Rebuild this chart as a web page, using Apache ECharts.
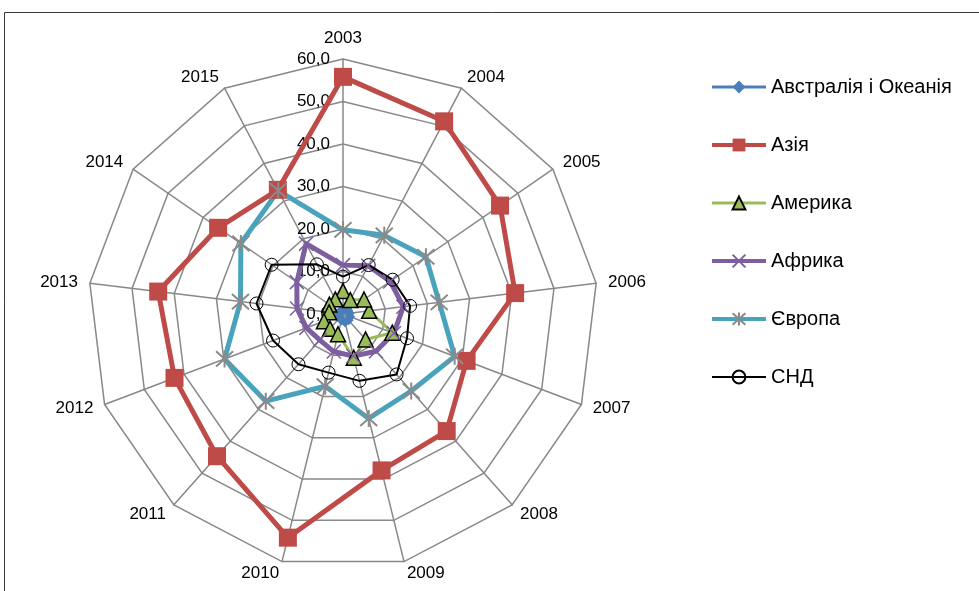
<!DOCTYPE html>
<html>
<head>
<meta charset="utf-8">
<script src="https://cdn.jsdelivr.net/npm/echarts@6/dist/echarts.min.js"></script>
<style>
html,body{margin:0;padding:0;background:#fff;}
#chart{width:979px;height:591px;}
</style>
</head>
<body>
<div id="chart"></div>
<script>
const years = ['2003','2004','2005','2006','2007','2008','2009','2010','2011','2012','2013','2014','2015'];
const seriesNames = ['Австралія і Океанія','Азія','Америка','Африка','Європа','СНД'];
const australia = [1.2,1.3,1.5,1.6,1.8,2.0,2.0,1.6,1.2,1.0,0.9,0.9,1.0];
const asia      = [55.8,51.2,44.9,40.8,31.1,36.8,37.9,54.2,44.7,42.4,43.8,35.7,33.0];
const america   = [5.4,3.7,6.0,6.2,12.4,8.0,10.6,4.9,4.6,4.8,3.3,3.9,3.9];
const africa    = [11.5,12.8,13.5,14.3,12.8,11.7,10.2,9.1,8.2,9.2,10.9,13.2,18.7];
const europe    = [19.8,20.9,23.7,22.8,28.1,24.2,25.3,17.5,27.4,29.8,24.3,29.2,32.8];
const cis       = [8.8,13.0,14.2,15.9,16.1,19.0,16.2,14.2,15.8,17.6,20.5,20.4,13.2];
const axisMax = 60;

const values = [australia, asia, america, africa, europe, cis];
const FONT = '"Liberation Sans", Arial, sans-serif';
const X_PATH = 'path://M0,0L10,10M10,0L0,10';
const STAR_PATH = 'path://M5,0L5,10M0.5,0.5L9.5,9.5M9.5,0.5L0.5,9.5';

// ECharts lays radar indicators out counter-clockwise; the reference runs clockwise,
// so keep the first year on top and feed the rest in reverse order.
const order = [0].concat(years.slice(1).map((_, i) => years.length - 1 - i));

const styles = [
  {line:'#4a7ebb', width:3, symbol:'diamond', size:10, item:{color:'#4a7ebb'}},
  {line:'#be4b48', width:5, symbol:'rect', size:18, item:{color:'#be4b48'}},
  {line:'#9bbb59', width:3, symbol:'triangle', size:15, item:{color:'#9bbb59', borderColor:'#000', borderWidth:1.5}},
  {line:'#7d5fa0', width:5, symbol:X_PATH, size:14, item:{color:'#7d5fa0', borderColor:'#7d5fa0', borderWidth:1.5}},
  {line:'#4aa3bd', width:5, symbol:STAR_PATH, size:17, item:{color:'#4aa3bd', borderColor:'#8a8a8a', borderWidth:2}},
  {line:'#000000', width:2, symbol:'circle', size:13, item:{color:'rgba(255,255,255,0)', borderColor:'#000', borderWidth:1}}
];

const indicator = order.map((k, i) => i === 0 ? {
  name: years[k], max: axisMax, min: 0,
  axisLabel: {show: true}
} : {name: years[k], max: axisMax, min: 0});

const radarData = seriesNames.map((n, i) => ({
  name: n,
  value: order.map(k => values[i][k]),
  symbol: styles[i].symbol,
  symbolSize: styles[i].size,
  lineStyle: {color: styles[i].line, width: styles[i].width},
  itemStyle: styles[i].item
}));

const legendSeries = seriesNames.map((n, i) => ({
  type: 'line', name: n, data: [],
  xAxisIndex: 0, yAxisIndex: 0,
  symbol: styles[i].symbol,
  symbolSize: styles[i].size,
  lineStyle: {color: styles[i].line, width: styles[i].width},
  itemStyle: styles[i].item
}));

const legendData = seriesNames.map((n, i) => ({
  name: n,
  lineStyle: {color: styles[i].line, width: Math.min(styles[i].width, 4)}
}));

const chart = echarts.init(document.getElementById('chart'), null, {renderer: 'canvas'});
chart.setOption({
  animation: false,
  backgroundColor: '#fff',
  textStyle: {fontFamily: FONT},
  graphic: [{
    type: 'rect', silent: true, z: -1,
    shape: {x: 4.5, y: 12.5, width: 1000, height: 700},
    style: {fill: 'none', stroke: '#3a3a3a', lineWidth: 1}
  }],
  grid: {show: false, left: -200, top: -200, width: 10, height: 10},
  xAxis: {show: false, type: 'category', data: []},
  yAxis: {show: false, type: 'value'},
  legend: {
    orient: 'vertical', left: 710, top: 77, padding: 0,
    itemWidth: 54, itemHeight: 16, itemGap: 38,
    data: legendData,
    textStyle: {fontSize: 20, color: '#000', fontFamily: FONT},
    selectedMode: false
  },
  radar: {
    center: [343, 314],
    radius: 255,
    startAngle: 90,
    shape: 'polygon',
    splitNumber: 6,
    indicator: indicator,
    axisName: {color: '#000', fontSize: 17, fontFamily: FONT},
    nameGap: 12,
    axisLine: {lineStyle: {color: '#888', width: 1.5}},
    splitLine: {lineStyle: {color: '#888', width: 1.5}},
    splitArea: {show: false},
    axisTick: {show: false},
    axisLabel: {
      show: false, color: '#000', fontSize: 17, fontFamily: FONT, margin: 13,
      formatter: v => Number(v).toFixed(1).replace('.', ',')
    }
  },
  series: legendSeries.concat([{
    type: 'radar',
    data: radarData
  }])
});
</script>
</body>
</html>
